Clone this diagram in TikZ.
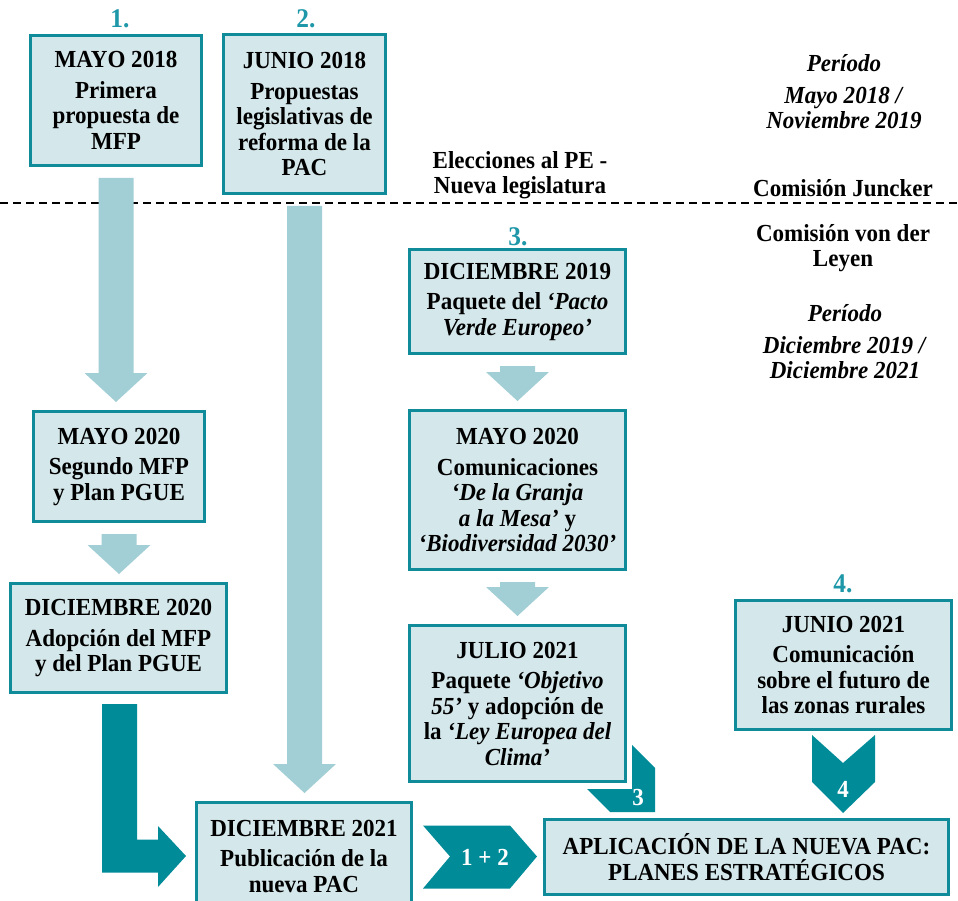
\documentclass[tikz,border=0pt]{standalone}
\usepackage{fontspec}
\setmainfont{Liberation Serif}[FakeStretch=0.94]
\usetikzlibrary{calc}

\definecolor{borde}{HTML}{0F8B9A}
\definecolor{fondo}{HTML}{D4E7EA}
\definecolor{clara}{HTML}{A2CED5}
\definecolor{oscura}{HTML}{008B99}
\definecolor{numcol}{HTML}{1E97A8}

% flecha clara de un recuadro al siguiente
\newcommand{\flecha}[2]{%
  \fill[clara] ($(#1.south)+(-17.5,11)$) -- ($(#1.south)+(17.5,11)$)
    -- ($(#1.south |- #2.north)+(17.5,-37)$) -- ($(#1.south |- #2.north)+(31.5,-37)$)
    -- ($(#1.south |- #2.north)+(0,-8)$) -- ($(#1.south |- #2.north)+(-31.5,-37)$)
    -- ($(#1.south |- #2.north)+(-17.5,-37)$) -- cycle;}

\begin{document}
\begin{tikzpicture}[x=1pt,y=-1pt,
  caja/.style={draw=borde,fill=fondo,line width=3pt,align=center,inner sep=2pt,
    font=\fontsize{24.5}{25.5}\selectfont\bfseries},
  texto/.style={align=center,font=\fontsize{24.5}{25.5}\selectfont\bfseries},
  numero/.style={text=numcol,font=\fontsize{27}{28}\selectfont\bfseries},
  blanco/.style={text=white,font=\fontsize{24.5}{25.5}\selectfont\bfseries}]
\useasboundingbox (0,0) rectangle (958,901);
\clip (0,0) rectangle (958,901);

\draw[line width=2.5pt,dash pattern=on 8pt off 5pt] (0,203) -- (958,203);

% recuadros
\node[caja,minimum width=171,minimum height=130] (may18) at (116,100.5)
  {MAYO 2018\\[5pt] Primera\\ propuesta de\\ MFP};
\node[caja,minimum width=162,minimum height=159] (jun18) at (304.5,114)
  {JUNIO 2018\\[5pt] Propuestas\\ legislativas de\\ reforma de la\\ PAC};
\node[caja,minimum width=171,minimum height=110] (may20a) at (119,466.5)
  {MAYO 2020\\[5pt] Segundo MFP\\ y Plan PGUE};
\node[caja,minimum width=216,minimum height=109] (dic20) at (118.5,638)
  {DICIEMBRE 2020\\[5pt] Adopción del MFP\\ y del Plan PGUE};
\node[caja,minimum width=215,minimum height=107] (dic21) at (304,856)
  {DICIEMBRE 2021\\[5pt] Publicación de la\\ nueva PAC};
\node[caja,minimum width=216,minimum height=104] (dic19) at (517.5,301.5)
  {DICIEMBRE 2019\\[5pt] Paquete del \textit{‘Pacto}\\ \textit{Verde Europeo’}};
\node[caja,minimum width=216,minimum height=159] (may20b) at (517.5,490)
  {MAYO 2020\\[5pt] Comunicaciones\\ \textit{‘De la Granja}\\ \textit{a la Mesa’} y\\ \textit{‘Biodiversidad 2030’}};
\node[caja,minimum width=216,minimum height=156] (jul21) at (517.5,703.5)
  {JULIO 2021\\[5pt] Paquete \textit{‘Objetivo}\\ \textit{55’} y adopción de\\ la \textit{‘Ley Europea del}\\ \textit{Clima’}};
\node[caja,minimum width=216,minimum height=129] (jun21) at (843.5,665)
  {JUNIO 2021\\[5pt] Comunicación\\ sobre el futuro de\\ las zonas rurales};
\node[caja,minimum width=404,minimum height=75] (aplic) at (746.5,857)
  {APLICACIÓN DE LA NUEVA PAC:\\ PLANES ESTRATÉGICOS};

% numeros
\node[numero] (n1) at (120,19) {1.};
\node[numero] (n2) at (306,19) {2.};
\node[numero] (n3) at (518,237) {3.};
\node[numero] (n4) at (843,584) {4.};

% textos
\node[texto] (elec) at (520,175) {Elecciones al PE -\\ Nueva legislatura};
\node[texto] (per1) at (844,92) {\textit{Período}\\[6pt] \textit{Mayo 2018 /}\\ \textit{Noviembre 2019}};
\node[texto] (junck) at (843,188) {Comisión Juncker};
\node[texto] (vdl) at (843,248) {Comisión von der\\ Leyen};
\node[texto] (per2) at (845,342) {\textit{Período}\\[6pt] \textit{Diciembre 2019 /}\\ \textit{Diciembre 2021}};

% flechas claras
\flecha{may18}{may20a}
\flecha{jun18}{dic21}
\flecha{may20a}{dic20}
\flecha{dic19}{may20b}
\flecha{may20b}{jul21}

% flecha acodada
\coordinate (ba) at ($(dic20.south)+(0,10)$);
\coordinate (bt) at ($(dic21.west)+(-9,0)$);
\fill[oscura] ($(ba)+(-16.5,0)$) -- ($(ba)+(18.5,0)$) -- ($(ba |- bt)+(18.5,-16.5)$)
  -- ($(bt)+(-28,-16.5)$) -- ($(bt)+(-28,-30)$) -- (bt) -- ($(bt)+(-28,31)$)
  -- ($(bt)+(-28,16.5)$) -- ($(ba |- bt)+(-16.5,16.5)$) -- cycle;

% cheurones
\coordinate (c12) at ($(dic21.east)!0.5!(aplic.west)$);
\fill[oscura] ($(c12)+(-55,-31)$) -- ($(c12)+(32,-31)$) -- ($(c12)+(59,0)$)
  -- ($(c12)+(32,32)$) -- ($(c12)+(-55,32)$) -- ($(c12)+(-28,0)$) -- cycle;
\node[blanco] (l12) at ($(c12)+(7,1)$) {1 + 2};
\fill[oscura] (632,745) -- (655,768) -- (655,812) -- (610,812) -- (587,789) -- (632,789) -- cycle;
\node[blanco] (l3) at (638,798) {3};
\fill[oscura] (812,735) -- (843,763) -- (875,735) -- (875,782) -- (843,813) -- (812,782) -- cycle;
\node[blanco] (l4) at (843,789) {4};
\end{tikzpicture}
\end{document}
